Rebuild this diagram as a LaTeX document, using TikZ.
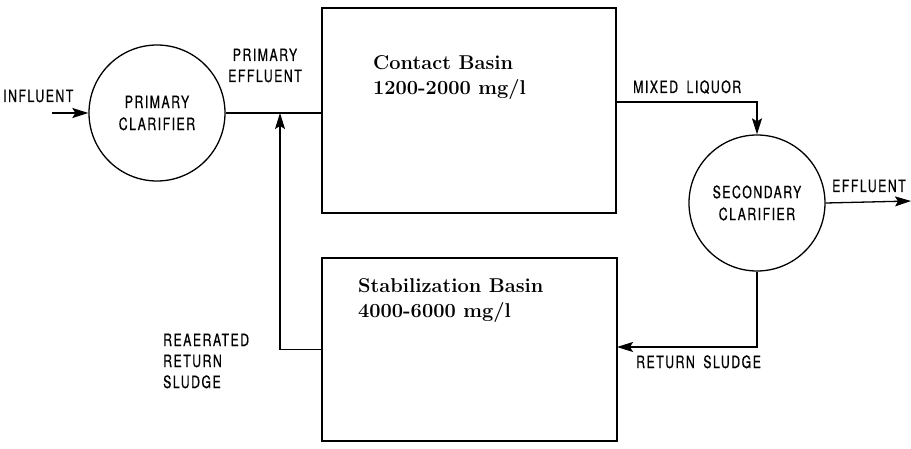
\documentclass[tikz,border=0pt]{standalone}
\usepackage{fontspec}
\usetikzlibrary{arrows.meta}
\newfontfamily\lettering[FakeStretch=0.72,LetterSpace=9,FakeBold=0.6]{TeX Gyre Heros}
\tikzset{
  flow/.style={-{Stealth[length=16pt,width=10pt,inset=3pt]},line width=1.3pt},
  pipe/.style={line width=1.3pt},
  clarifier/.style={draw,circle,line width=1.3pt,minimum size=136pt,inner sep=0pt,
    align=center,font=\lettering\fontsize{17}{22}\selectfont},
  basin/.style={draw,rectangle,line width=1.3pt,inner sep=0pt},
  lbl/.style={inner sep=0pt,font=\lettering\fontsize{17}{21}\selectfont},
  basintext/.style={inner sep=0pt,anchor=base west,align=left,
    font=\bfseries\fontsize{20}{25}\selectfont},
}
\begin{document}
\begin{tikzpicture}[x=1pt,y=-1pt]
  \useasboundingbox (0,0) rectangle (911,449);
  % units
  \node[clarifier] (pc) at (157,113) {PRIMARY\\CLARIFIER};
  \node[clarifier] (sc) at (757,203) {SECONDARY\\CLARIFIER};
  \node[basin,minimum width=294pt,minimum height=205pt] (cb) at (469,110.5) {};
  \node[basin,minimum width=295pt,minimum height=183pt] (sb) at (469.5,349.5) {};
  \node[basintext] (cbt) at (373,95) {Contact Basin\\1200-2000 mg/l};
  \node[basintext] (sbt) at (358,318) {Stabilization Basin\\4000-6000 mg/l};
  % labels
  \node[lbl,anchor=base west] (infl) at (3,102) {INFLUENT};
  \node[lbl,anchor=base,align=center] (pe) at (265,82) {PRIMARY\\EFFLUENT};
  \node[lbl,anchor=base west] (mlq) at (633,93) {MIXED\hspace{0.5em}LIQUOR};
  \node[lbl,anchor=base west] (eft) at (832,192) {EFFLUENT};
  \node[lbl,anchor=base west] (rst) at (636,368) {RETURN\hspace{0.5em}SLUDGE};
  \node[lbl,anchor=base west,align=left] (rrs) at (163,388) {REAERATED\\RETURN\\SLUDGE};
  % connectors
  \coordinate (inf) at (52,113);
  \coordinate (ml) at (616,102);
  \coordinate (eff) at (911,201);
  \coordinate (rs) at (617,347);
  \coordinate (rr) at (280,113);
  \draw[flow] (inf) -- (pc.west);
  \draw[pipe] (pc.east) -- (pc.east -| cb.west);
  \draw[flow] (ml) -| (sc.north);
  \draw[flow] (sc.east) -- (eff);
  \draw[flow] (sc.south) |- (rs);
  \draw[flow] (sb.west) -| (rr);
\end{tikzpicture}
\end{document}
